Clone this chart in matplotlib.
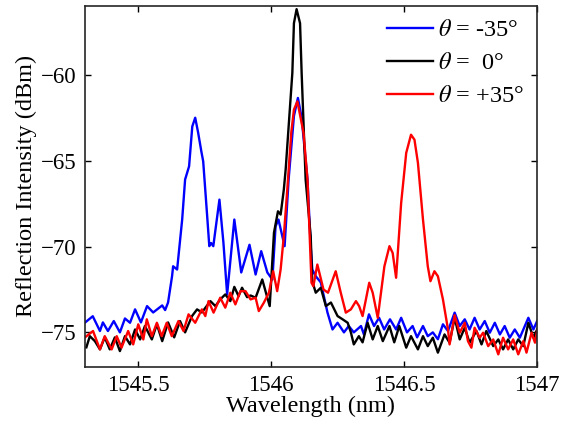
import matplotlib
matplotlib.use('Agg')
import matplotlib.pyplot as plt

# espectros (longitud de onda nm, potencia dBm)
wl_neg = [1545.300, 1545.330, 1545.357, 1545.368, 1545.387, 1545.409, 1545.432, 1545.451,
          1545.470, 1545.489, 1545.511, 1545.534, 1545.557, 1545.591, 1545.602, 1545.613,
          1545.628, 1545.632, 1545.647, 1545.666, 1545.677, 1545.692, 1545.704, 1545.715,
          1545.726, 1545.738, 1545.745, 1545.760, 1545.768, 1545.775, 1545.783, 1545.806,
          1545.821, 1545.835, 1545.862, 1545.888, 1545.919, 1545.942, 1545.963, 1545.986,
          1546.005, 1546.017, 1546.028, 1546.051, 1546.066, 1546.086, 1546.101, 1546.115,
          1546.137, 1546.149, 1546.155, 1546.168, 1546.187, 1546.212, 1546.231, 1546.250,
          1546.274, 1546.292, 1546.311, 1546.338, 1546.349, 1546.368, 1546.387, 1546.406,
          1546.425, 1546.447, 1546.470, 1546.489, 1546.511, 1546.532, 1546.549, 1546.571,
          1546.589, 1546.608, 1546.627, 1546.646, 1546.665, 1546.690, 1546.709, 1546.728,
          1546.746, 1546.765, 1546.784, 1546.803, 1546.822, 1546.841, 1546.860, 1546.878,
          1546.897, 1546.916, 1546.935, 1546.967, 1546.986, 1547.000]
p_neg = [-74.44, -74.06, -74.92, -74.42, -74.92, -74.34, -75.00, -74.19,
         -74.44, -73.66, -74.42, -73.47, -73.84, -73.43, -73.70, -73.26,
         -71.73, -71.15, -71.34, -68.43, -66.10, -65.33, -63.01, -62.50,
         -63.37, -64.46, -65.04, -68.24, -69.98, -69.80, -69.98, -67.27,
         -69.77, -72.79, -68.43, -71.51, -69.90, -71.63, -70.27, -71.51,
         -71.92, -68.82, -68.43, -69.98, -66.10, -62.40, -61.35, -62.50,
         -66.10, -69.98, -71.34, -71.73, -72.09, -73.84, -74.83, -74.44,
         -75.00, -74.63, -75.00, -74.63, -75.12, -73.95, -74.63, -74.15,
         -74.83, -74.24, -74.83, -74.15, -75.00, -74.63, -75.29, -74.63,
         -75.22, -75.00, -75.40, -74.53, -74.92, -73.85, -74.63, -74.24,
         -74.83, -74.15, -74.83, -74.34, -75.02, -74.44, -75.12, -74.63,
         -75.31, -74.83, -75.31, -74.15, -74.83, -74.34]

wl_cero = [1545.306, 1545.319, 1545.338, 1545.357, 1545.375, 1545.394, 1545.413, 1545.432,
           1545.451, 1545.470, 1545.489, 1545.508, 1545.526, 1545.552, 1545.571, 1545.591,
           1545.613, 1545.636, 1545.658, 1545.677, 1545.703, 1545.722, 1545.740, 1545.772,
           1545.791, 1545.809, 1545.828, 1545.847, 1545.862, 1545.878, 1545.891, 1545.910,
           1545.923, 1545.942, 1545.967, 1545.986, 1545.995, 1546.011, 1546.026, 1546.036,
           1546.048, 1546.055, 1546.080, 1546.086, 1546.096, 1546.109, 1546.115, 1546.130,
           1546.149, 1546.155, 1546.168, 1546.187, 1546.206, 1546.225, 1546.250, 1546.269,
           1546.288, 1546.300, 1546.311, 1546.330, 1546.344, 1546.363, 1546.382, 1546.401,
           1546.420, 1546.445, 1546.463, 1546.482, 1546.508, 1546.526, 1546.552, 1546.571,
           1546.589, 1546.608, 1546.627, 1546.652, 1546.671, 1546.690, 1546.709, 1546.728,
           1546.746, 1546.772, 1546.791, 1546.809, 1546.835, 1546.854, 1546.872, 1546.891,
           1546.910, 1546.929, 1546.948, 1546.967, 1546.986, 1547.000]
p_cero = [-75.87, -75.22, -75.51, -75.99, -75.29, -75.99, -75.29, -76.09,
          -75.22, -75.70, -74.83, -75.41, -74.63, -75.41, -74.53, -75.51,
          -74.42, -75.29, -74.34, -75.00, -74.05, -73.66, -73.84, -73.18,
          -73.47, -73.08, -72.79, -73.18, -72.35, -72.89, -72.40, -72.95,
          -72.85, -72.98, -71.92, -72.98, -73.47, -69.20, -67.95, -68.14,
          -66.69, -65.50, -59.90, -57.00, -56.18, -57.00, -59.90, -66.10,
          -69.40, -72.02, -72.69, -72.40, -73.47, -73.26, -74.05, -74.24,
          -74.44, -75.00, -75.70, -75.22, -75.58, -74.44, -75.41, -74.63,
          -75.51, -74.63, -75.58, -74.63, -75.89, -75.22, -75.99, -75.22,
          -75.80, -75.31, -76.18, -75.12, -75.60, -74.15, -75.41, -74.73,
          -75.60, -74.92, -75.70, -74.92, -75.80, -75.41, -75.99, -75.41,
          -75.99, -75.41, -75.80, -74.44, -75.31, -74.83]

wl_pos = [1545.300, 1545.331, 1545.357, 1545.375, 1545.401, 1545.420, 1545.438, 1545.463,
          1545.482, 1545.501, 1545.520, 1545.533, 1545.552, 1545.571, 1545.589, 1545.608,
          1545.627, 1545.652, 1545.671, 1545.690, 1545.715, 1545.740, 1545.753, 1545.765,
          1545.784, 1545.809, 1545.828, 1545.847, 1545.866, 1545.885, 1545.904, 1545.923,
          1545.942, 1545.954, 1545.973, 1545.992, 1546.008, 1546.023, 1546.036, 1546.048,
          1546.061, 1546.076, 1546.086, 1546.099, 1546.122, 1546.137, 1546.152, 1546.159,
          1546.174, 1546.197, 1546.214, 1546.243, 1546.262, 1546.281, 1546.300, 1546.319,
          1546.331, 1546.344, 1546.369, 1546.382, 1546.401, 1546.426, 1546.445, 1546.457,
          1546.470, 1546.489, 1546.508, 1546.526, 1546.539, 1546.552, 1546.571, 1546.589,
          1546.599, 1546.614, 1546.627, 1546.646, 1546.665, 1546.671, 1546.690, 1546.709,
          1546.728, 1546.740, 1546.753, 1546.765, 1546.784, 1546.797, 1546.816, 1546.835,
          1546.854, 1546.872, 1546.891, 1546.910, 1546.929, 1546.948, 1546.960, 1546.979,
          1546.992, 1547.000]
p_pos = [-75.30, -74.92, -75.99, -75.22, -75.99, -75.22, -75.89, -74.92,
         -75.70, -74.53, -75.41, -74.24, -75.22, -74.44, -75.22, -74.44,
         -75.22, -74.34, -74.92, -73.95, -74.44, -73.66, -74.05, -73.18,
         -73.85, -72.98, -73.56, -72.69, -73.37, -72.60, -72.60, -73.08,
         -72.98, -73.76, -73.27, -72.69, -71.44, -72.60, -71.34, -69.40,
         -66.69, -63.37, -62.03, -61.55, -63.37, -66.10, -72.11, -72.31,
         -71.05, -72.50, -72.69, -71.44, -72.69, -73.85, -73.66, -73.18,
         -73.47, -74.05, -72.11, -72.69, -74.15, -71.15, -69.98, -70.37,
         -71.82, -67.46, -64.55, -63.49, -63.78, -65.13, -68.43, -71.15,
         -72.02, -71.44, -71.73, -73.08, -74.83, -75.70, -74.00, -75.02,
         -74.44, -75.51, -75.89, -74.73, -75.31, -75.02, -75.80, -75.41,
         -76.28, -75.31, -75.99, -75.41, -76.28, -75.51, -76.18, -75.02,
         -75.60, -74.90]

etiquetas = [r'$\theta$ = -35°', r'$\theta$ =  0°', r'$\theta$ = +35°']
colores = ['#0000ff', '#000000', '#ff0000']

plt.rcParams['font.family'] = ['Liberation Serif', 'DejaVu Serif']
plt.rcParams['mathtext.fontset'] = 'stix'

fig = plt.figure(figsize=(5.69, 4.34), dpi=100)
ax = fig.add_axes([0.149, 0.155, 0.795, 0.831])

for wl, p, lab, c in zip([wl_neg, wl_cero, wl_pos], [p_neg, p_cero, p_pos], etiquetas, colores):
    ax.plot(wl, p, color=c, lw=1.7, label=lab, solid_joinstyle='round')

ax.set_xlim(1545.3, 1547)
ax.set_ylim(-77, -56)
ax.set_xticks([1545.5, 1546, 1546.5, 1547])
ax.set_xticklabels(['1545.5', '1546', '1546.5', '1547'])
ax.set_yticks([-75, -70, -65, -60])
ax.tick_params(direction='in', top=True, right=True, labelsize=16.5, length=4, width=1, pad=6)
for s in ax.spines.values():
    s.set_linewidth(1.2)
    s.set_color('#262626')

ax.set_xlabel('Wavelength (nm)', fontsize=17.5, labelpad=0)
ax.set_ylabel('Reflection Intensity (dBm)', fontsize=17.5, labelpad=3)

ax.legend(loc='upper right', frameon=False, fontsize=17.5, handlelength=1.9,
          handletextpad=0.2, labelspacing=0.45, borderaxespad=0.15)

fig.savefig('out.png', dpi=100)
